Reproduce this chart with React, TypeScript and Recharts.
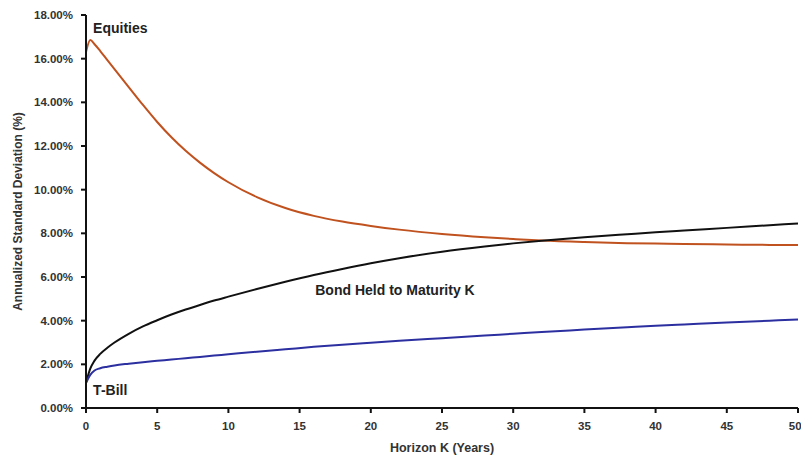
import React from 'react';
import { LineChart, Line, XAxis, YAxis, ReferenceDot, Label } from 'recharts';

const years = [0, 0.3, 0.6, 1, 1.5, 2, 3, 4, 5, 6, 7, 8, 9, 10, 12, 14, 16, 18, 20, 22, 25, 28, 30, 32, 35, 38, 40, 42, 45, 48, 50];
const equities = [16.3, 16.85, 16.66, 16.35, 15.93, 15.52, 14.7, 13.88, 13.1, 12.4, 11.78, 11.24, 10.76, 10.34, 9.66, 9.16, 8.8, 8.54, 8.34, 8.17, 7.97, 7.82, 7.74, 7.67, 7.6, 7.55, 7.53, 7.51, 7.49, 7.47, 7.46];
const bond = [1.15, 1.8, 2.17, 2.48, 2.76, 3.0, 3.4, 3.74, 4.02, 4.28, 4.51, 4.72, 4.92, 5.1, 5.45, 5.78, 6.09, 6.37, 6.63, 6.86, 7.16, 7.4, 7.54, 7.66, 7.82, 7.96, 8.05, 8.13, 8.25, 8.37, 8.45];
const tbill = [1.15, 1.52, 1.72, 1.82, 1.89, 1.95, 2.03, 2.1, 2.16, 2.22, 2.28, 2.34, 2.4, 2.46, 2.58, 2.69, 2.8, 2.9, 2.99, 3.08, 3.2, 3.32, 3.4, 3.48, 3.59, 3.7, 3.77, 3.83, 3.92, 4.0, 4.05];

const xTicks = [0, 5, 10, 15, 20, 25, 30, 35, 40, 45, 50];
const yTicks = [0, 2, 4, 6, 8, 10, 12, 14, 16, 18];

// label anchors in data units
const labels = [
  { x: 0.5, y: 17.4, text: 'Equities' },
  { x: 16.1, y: 5.4, text: 'Bond Held to Maturity K' },
  { x: 0.5, y: 0.82, text: 'T-Bill' },
];

const data = years.map((k, i) => ({ k, equities: equities[i], bond: bond[i], tbill: tbill[i] }));

const FONT = '"Liberation Sans", Arial, sans-serif';
const tickStyle = { fontFamily: FONT, fontSize: 11.5, fontWeight: 700, fill: '#333' };

export default function App() {
  return (
    <div style={{ position: 'absolute', left: 0, top: 0, background: '#fff' }}>
      <LineChart width={801} height={457} data={data} margin={{ top: 15, right: 3, left: 0, bottom: 19 }}>
        <XAxis
          dataKey="k"
          type="number"
          domain={[0, 50]}
          ticks={xTicks}
          tick={tickStyle}
          tickSize={5}
          tickMargin={9}
          height={30}
          axisLine={{ stroke: '#111', strokeWidth: 2 }}
          tickLine={{ stroke: '#111', strokeWidth: 2 }}
        >
          <Label value="Horizon K (Years)" position="insideBottom" offset={-14} style={{ ...tickStyle, fontSize: 12.5 }} />
        </XAxis>
        <YAxis
          type="number"
          domain={[0, 18]}
          ticks={yTicks}
          tickFormatter={(v: number) => v.toFixed(2) + '%'}
          tick={tickStyle}
          tickSize={5}
          tickMargin={8}
          width={86}
          axisLine={{ stroke: '#111', strokeWidth: 2 }}
          tickLine={{ stroke: '#111', strokeWidth: 2 }}
        >
          <Label value="Annualized Standard Deviation (%)" angle={-90} position="insideLeft" offset={18} style={{ ...tickStyle, fontSize: 12, textAnchor: 'middle' }} />
        </YAxis>
        <Line type="monotone" dataKey="equities" stroke="#c0521f" strokeWidth={2} dot={false} isAnimationActive={false} />
        <Line type="monotone" dataKey="bond" stroke="#111" strokeWidth={2} dot={false} isAnimationActive={false} />
        <Line type="monotone" dataKey="tbill" stroke="#2b2fa0" strokeWidth={2} dot={false} isAnimationActive={false} />
        {labels.map((l) => (
          <ReferenceDot
            key={l.text}
            x={l.x}
            y={l.y}
            r={0}
            fill="none"
            stroke="none"
            label={{ value: l.text, position: 'right', offset: 0, style: { ...tickStyle, fontSize: 14, fill: '#222' } }}
          />
        ))}
      </LineChart>
    </div>
  );
}
